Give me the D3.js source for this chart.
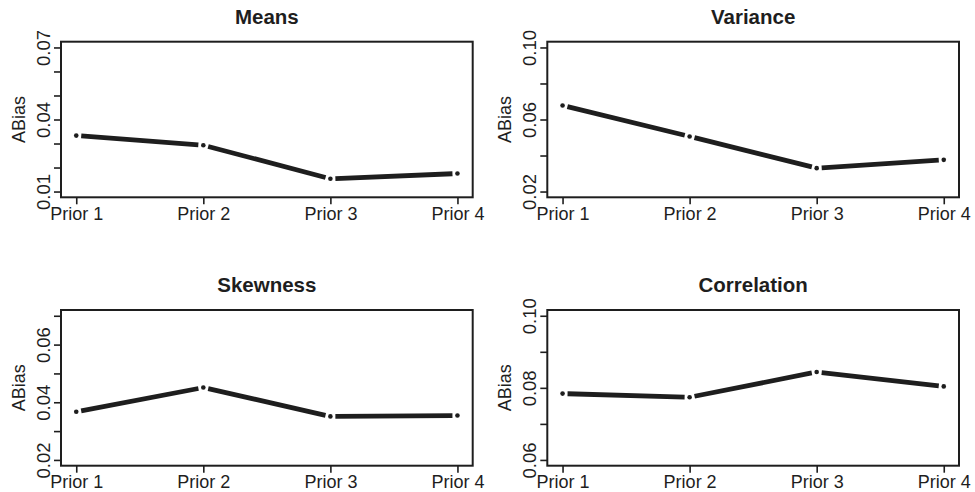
<!DOCTYPE html>
<html>
<head>
<meta charset="utf-8">
<script src="https://cdn.jsdelivr.net/npm/d3@7"></script>
<style>
  body { margin: 0; background: #fff; }
  text { font-family: "Liberation Sans", Arial, sans-serif; fill: #1e1e1e; }
</style>
</head>
<body>
<div id="chart"></div>
<script>
const width = 975
const height = 492

// datos
const categories = ["Prior 1", "Prior 2", "Prior 3", "Prior 4"]
const panelTitles = ["Means", "Variance", "Skewness", "Correlation"]

const meansValues = [0.0333, 0.0293, 0.0153, 0.0175]
const varianceValues = [0.0678, 0.0506, 0.0330, 0.0376]
const skewnessValues = [0.0367, 0.0451, 0.0351, 0.0354]
const correlationValues = [0.0784, 0.0774, 0.0844, 0.0804]

const meansLimits = [0.01, 0.07]
const varianceLimits = [0.02, 0.10]
const skewnessLimits = [0.02, 0.07]
const correlationLimits = [0.06, 0.10]

const meansTicks = [0.01, 0.02, 0.03, 0.04, 0.05, 0.06, 0.07]
const varianceTicks = [0.02, 0.04, 0.06, 0.08, 0.10]
const skewnessTicks = [0.02, 0.03, 0.04, 0.05, 0.06, 0.07]
const correlationTicks = [0.06, 0.07, 0.08, 0.09, 0.10]

const meansLabels = ["0.01", "0.04", "0.07"]
const varianceLabels = ["0.02", "0.06", "0.10"]
const skewnessLabels = ["0.02", "0.04", "0.06"]
const correlationLabels = ["0.06", "0.08", "0.10"]

const panels = [
    { title: panelTitles[0], values: meansValues, lim: meansLimits, ticks: meansTicks, labels: meansLabels },
    { title: panelTitles[1], values: varianceValues, lim: varianceLimits, ticks: varianceTicks, labels: varianceLabels },
    { title: panelTitles[2], values: skewnessValues, lim: skewnessLimits, ticks: skewnessTicks, labels: skewnessLabels },
    { title: panelTitles[3], values: correlationValues, lim: correlationLimits, ticks: correlationTicks, labels: correlationLabels }
]

// cajas de cada panel (columnas y filas)
const cols = [[61, 472.7], [547.3, 959]]
const rows = [[41.7, 197.3], [310, 465.7]]
const ink = "#1e1e1e"
const fmt = d3.format(".2f")

const svg = d3.select("div#chart")
    .append("svg")
    .attr("width", width)
    .attr("height", height)

panels.forEach((p, i) => {
    const [x0, x1] = cols[i % 2]
    const [y0, y1] = rows[Math.floor(i / 2)]

    // como R: 4% extra a cada lado
    const x = d3.scaleLinear().domain([1 - 0.12, 4 + 0.12]).range([x0, x1])
    const pad = (p.lim[1] - p.lim[0]) * 0.04
    const y = d3.scaleLinear().domain([p.lim[0] - pad, p.lim[1] + pad]).range([y1, y0])

    const g = svg.append("g")

    // eje x
    const xAxis = d3.axisBottom(x)
        .tickValues([1, 2, 3, 4])
        .tickFormat(d => categories[d - 1])
        .tickSize(7)
    const xg = g.append("g").attr("transform", `translate(0,${y1})`).call(xAxis)
    xg.select(".domain").remove()
    xg.selectAll("line").attr("stroke", ink).attr("stroke-width", 1.6)
    xg.selectAll("text")
        .attr("y", 22.7)
        .attr("dy", 0)
        .style("font-size", "18px")
        .attr("fill", ink)
        .attr("font-family", null)

    // eje y
    const yAxis = d3.axisLeft(y)
        .tickValues(p.ticks)
        .tickFormat(d => p.labels.includes(fmt(d)) ? fmt(d) : "")
        .tickSize(7)
    const yg = g.append("g").attr("transform", `translate(${x0},0)`).call(yAxis)
    yg.select(".domain").remove()
    yg.selectAll("line").attr("stroke", ink).attr("stroke-width", 1.6)
    yg.selectAll("text")
        .attr("transform", "rotate(-90)")
        .attr("x", 0)
        .attr("y", -11.5)
        .attr("dy", 0)
        .attr("text-anchor", "middle")
        .style("font-size", "18.5px")
        .attr("fill", ink)
        .attr("font-family", null)

    // caja
    g.append("rect")
        .attr("x", x0).attr("y", y0)
        .attr("width", x1 - x0).attr("height", y1 - y0)
        .attr("fill", "none")
        .attr("stroke", ink)
        .attr("stroke-width", 2)

    // titulo
    g.append("text")
        .text(p.title)
        .attr("x", (x0 + x1) / 2)
        .attr("y", y0 - 17.7)
        .attr("text-anchor", "middle")
        .style("font-size", "20.5px")
        .style("font-weight", "bold")

    // etiqueta y
    g.append("text")
        .text("ABias")
        .attr("transform", `translate(${x0 - 36},${(y0 + y1) / 2}) rotate(-90)`)
        .attr("text-anchor", "middle")
        .style("font-size", "18px")

    // lineas tipo "b": segmentos con hueco junto a los puntos
    const pts = p.values.map((v, k) => [x(k + 1), y(v)])
    const gap = 5
    const segs = d3.pairs(pts).map(([a, b]) => {
        const dx = b[0] - a[0], dy = b[1] - a[1]
        const len = Math.hypot(dx, dy)
        const ux = dx / len, uy = dy / len
        return [a[0] + ux * gap, a[1] + uy * gap, b[0] - ux * gap, b[1] - uy * gap]
    })
    g.selectAll("line.seg").data(segs)
        .join("line")
        .attr("class", "seg")
        .attr("x1", d => d[0]).attr("y1", d => d[1])
        .attr("x2", d => d[2]).attr("y2", d => d[3])
        .attr("stroke", ink)
        .attr("stroke-width", 4.8)

    g.selectAll("circle").data(p.values)
        .join("circle")
        .attr("cx", (d, k) => x(k + 1))
        .attr("cy", d => y(d))
        .attr("r", 2.3)
        .attr("fill", ink)
})
</script>
</body>
</html>
